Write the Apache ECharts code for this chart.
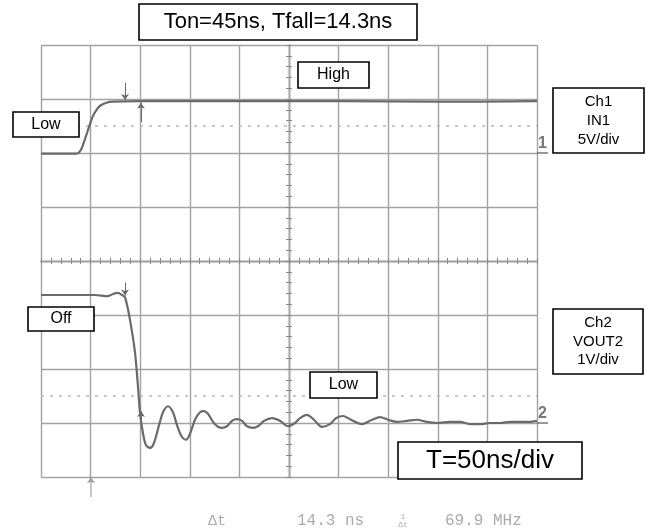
<!DOCTYPE html>
<html><head><meta charset="utf-8">
<script src="https://cdn.jsdelivr.net/npm/echarts@6/dist/echarts.min.js"></script>
<style>html,body{margin:0;padding:0;background:#fff}#c{width:646px;height:531px}</style>
</head><body><div id="c"></div>
<script>
// ---- data (x in ns, y in screen divisions; 10 x 50 ns/div, 8 vertical divisions) ----
const timeMin = 0, timeMax = 500, timeDiv = 50;
const divMin = -4, divMax = 4, divStep = 1;

const ch1Time = [0, 36, 40, 44, 48, 52, 56, 60, 66, 72, 100, 200, 300, 400, 500];
const ch1Div  = [1.99, 1.99, 2.05, 2.24, 2.46, 2.67, 2.80, 2.88, 2.93, 2.95, 2.96, 2.96, 2.96, 2.95, 2.96];

const ch2Time = [0, 29.2, 54.4, 67.5, 72.6, 77.6, 81.7, 84.7, 89.7, 94.8, 97.8, 99.8, 102.8, 105.8, 109.9,
  113.9, 119, 123, 128, 133, 137.1, 142.1, 146.2, 150.2, 155.2, 160.3, 164.3, 168.3, 173.4, 178.4, 182.5,
  187.5, 192.5, 197.6, 202.6, 207.7, 213.7, 218.7, 224.8, 232.9, 240.9, 249, 256, 261.1, 268.1, 275.2,
  283.3, 291.3, 297.4, 304.4, 311.5, 323.6, 333.7, 341.7, 349.8, 358.9, 369, 379, 389.1, 399.2, 412.3,
  422.4, 432.5, 442.5, 452.6, 462.7, 472.8, 482.9, 492.9, 500];
const ch2Div = [-0.63, -0.63, -0.63, -0.65, -0.61, -0.59, -0.63, -0.67, -1.09, -1.70, -2.33, -2.81, -3.19, -3.41, -3.46,
  -3.37, -3.04, -2.80, -2.69, -2.80, -3.04, -3.26, -3.31, -3.20, -2.94, -2.80, -2.78, -2.83, -2.98, -3.07, -3.09,
  -3.06, -2.96, -2.93, -2.96, -3.06, -3.09, -3.06, -2.96, -2.91, -2.96, -3.06, -3.00, -2.91, -2.85, -2.94,
  -3.07, -3.02, -2.91, -2.87, -2.93, -3.02, -2.94, -2.89, -2.94, -2.98, -2.96, -2.94, -2.98, -3.00, -2.98,
  -2.98, -3.02, -3.02, -3.00, -3.00, -2.98, -2.98, -2.98, -2.96];

// dotted level lines (div)
const levelLines = [2.5, -2.5];
// cursor arrows: time, start level, end level
const cursorTime = [84.7, 100.8, 84.7, 100.8];
const cursorFrom = [3.3, 2.57, -0.4, -3.05];
const cursorTo   = [2.98, 2.93, -0.64, -2.78];
// channel ground references
const groundLabels = ['1', '2'];
const groundLevel  = [2.0, -3.0];
// trigger point
const triggerTime = 50.4;

const texts = {
  title: 'Ton=45ns, Tfall=14.3ns',
  high: 'High', low1: 'Low', off: 'Off', low2: 'Low',
  ch1: 'Ch1\nIN1\n5V/div', ch2: 'Ch2\nVOUT2\n1V/div',
  timebase: 'T=50ns/div',
  dt: 'Δt', dtVal: '14.3 ns', freq: '69.9 MHz'
};

// ---- chart ----
const pair = (a, b) => a.map((v, i) => [v, b[i]]);
const gridC = '#a2a2a2';
const tickC = '#8a8a8a';
const FONT = '"Liberation Sans", Arial, sans-serif';

function xAx(pos, split) {
  return {
    type: 'value', min: timeMin, max: timeMax, interval: timeDiv, position: pos,
    axisLabel: { show: false },
    axisLine: { show: true, onZero: true, onZeroAxisIndex: 0, lineStyle: { color: gridC, width: 1.4 } },
    axisTick: { show: true, length: 3, lineStyle: { color: tickC, width: 1 } },
    minorTick: { show: true, splitNumber: 5, length: 3, lineStyle: { color: tickC, width: 1 } },
    splitLine: { show: split, lineStyle: { color: gridC, width: 1.4 } }
  };
}
function yAx(pos, split) {
  return {
    type: 'value', min: divMin, max: divMax, interval: divStep, position: pos, offset: -248,
    axisLabel: { show: false },
    axisLine: { show: true, onZero: false, lineStyle: { color: gridC, width: 1.4 } },
    axisTick: { show: true, length: 3, lineStyle: { color: tickC, width: 1 } },
    minorTick: { show: true, splitNumber: 5, length: 3, lineStyle: { color: tickC, width: 1 } },
    splitLine: { show: split, lineStyle: { color: gridC, width: 1.4 } }
  };
}

function box(x, y, w, h, text, size, lh) {
  return [
    { type: 'rect', shape: { x: x, y: y, width: w, height: h }, z: 100,
      style: { fill: '#fff', stroke: '#000', lineWidth: 1.6 } },
    { type: 'text', x: x + w / 2, y: y + h / 2, z: 101,
      style: { text: text, font: size + 'px ' + FONT, fill: '#000',
        align: 'center', verticalAlign: 'middle', textAlign: 'center', textVerticalAlign: 'middle',
        lineHeight: lh || size * 1.2 } }
  ];
}
function grayText(x, y, text, size, align) {
  return { type: 'text', x: x, y: y, z: 101,
    style: { text: text, font: size + 'px "Liberation Mono", "DejaVu Sans Mono", monospace', fill: '#ababab',
      align: align || 'left', verticalAlign: 'middle', textAlign: align || 'left', textVerticalAlign: 'middle', lineHeight: size } };
}

const graphics = [].concat(
  box(139, 4, 278, 36, texts.title, 22),
  box(298, 62, 71, 26, texts.high, 16),
  box(13, 112, 66, 25, texts.low1, 16),
  box(553, 88, 91, 65, texts.ch1, 15, 19),
  box(28, 307, 66, 24, texts.off, 16),
  box(310, 372, 67, 26, texts.low2, 16),
  box(553, 309, 90, 65, texts.ch2, 15, 18.5),
  box(398, 442, 184, 37, texts.timebase, 26),
  [grayText(208, 521, texts.dt, 15), grayText(297, 521, texts.dtVal, 16),
   grayText(403, 521, '1\nΔt', 8, 'center'), grayText(445, 521, texts.freq, 16)]
);

const cursorLines = cursorTime.map((t, i) => [{ coord: [t, cursorFrom[i]] }, { coord: [t, cursorTo[i]] }]);

const option = {
  animation: false,
  backgroundColor: '#fff',
  grid: { left: 41, top: 45, width: 496, height: 432, show: false },
  xAxis: [xAx('bottom', true), xAx('top', false)],
  yAxis: [yAx('left', true), yAx('right', false)],
  series: [
    {
      name: 'Ch1 IN1', type: 'line', data: pair(ch1Time, ch1Div), symbol: 'none', smooth: 0.3,
      lineStyle: { color: '#6a6a6a', width: 2.2 }, z: 5,
      markLine: { silent: true, symbol: 'none', animation: false, label: { show: false },
        lineStyle: { color: '#b8b8b8', width: 1.5, type: [3, 6] },
        data: levelLines.map(v => ({ yAxis: v })) }
    },
    {
      name: 'Ch2 VOUT2', type: 'line', data: pair(ch2Time, ch2Div), symbol: 'none', smooth: 0.3,
      lineStyle: { color: '#6a6a6a', width: 2.2 }, z: 5,
      markLine: { silent: true, symbol: ['none', 'arrow'], symbolSize: 6, animation: false, label: { show: false },
        lineStyle: { color: '#6a6a6a', width: 1, type: 'solid' },
        data: cursorLines }
    },
    {
      name: 'ground', type: 'scatter', clip: false, z: 6,
      data: groundLevel.map((v, i) => ({ value: [timeMax, v], name: groundLabels[i] })),
      symbol: 'rect', symbolSize: [11, 1.5], symbolOffset: [5.5, 0],
      itemStyle: { color: '#555' },
      label: { show: true, position: 'top', distance: 1, formatter: p => p.name,
        fontFamily: FONT, fontWeight: 'bold', fontSize: 16, color: '#555' }
    },
    {
      name: 'trigger', type: 'scatter', clip: false, z: 6,
      data: [[triggerTime, divMin]],
      symbol: 'path://M5 0 L9 7 L5.6 5.5 L5.6 22 L4.4 22 L4.4 5.5 L1 7 Z', symbolKeepAspect: false,
      symbolSize: [8, 20], symbolOffset: [0, 10],
      itemStyle: { color: '#888' }
    }
  ],
  graphic: { elements: graphics }
};

const chart = echarts.init(document.getElementById('c'));
chart.setOption(option);
</script>
</body></html>
